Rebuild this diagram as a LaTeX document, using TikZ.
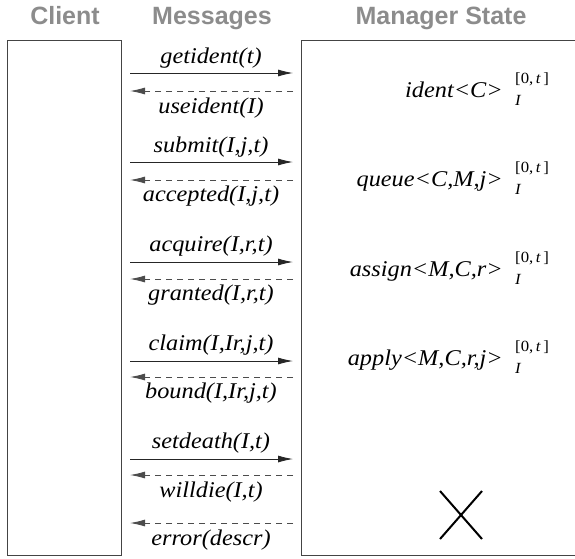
\documentclass[tikz,border=0pt]{standalone}
\usepackage{fontspec}
\setmainfont{Liberation Serif}[FakeStretch=1.08]
\newfontfamily\headfont{Liberation Sans}
\usetikzlibrary{arrows.meta}
\definecolor{headgray}{HTML}{8C8C8C}
\definecolor{framegray}{HTML}{444444}
\begin{document}
\begin{tikzpicture}[x=1pt,y=-1pt,
  heading/.style={font=\headfont\bfseries\fontsize{25}{25}\selectfont, text=headgray, anchor=base, inner sep=0pt},
  msg/.style={font=\itshape\fontsize{22.5}{22.5}\selectfont, anchor=center, inner sep=0pt},
  statelbl/.style={font=\itshape\fontsize{22.5}{22.5}\selectfont, anchor=base east, inner sep=0pt},
  scriptlbl/.style={font=\fontsize{15.5}{15.5}\selectfont, anchor=base west, inner sep=0pt},
  lane/.style={draw=framegray, line width=1pt},
  req/.style={-{Latex[length=15pt,width=7pt]}, line width=0.9pt, draw=black!85},
  rep/.style={-{Latex[length=15pt,width=7pt]}, line width=0.9pt, draw=black!70, dash pattern=on 6pt off 5pt},
  cross/.style={line width=2pt, draw=black}]
\useasboundingbox (0,0) rectangle (575,558);

% column headings
\node[heading] (hc) at (65,24) {Client};
\node[heading] (hm) at (212,24) {Messages};
\node[heading] (hs) at (441,24) {Manager State};

% lanes
\node[lane, minimum width=114pt, minimum height=515pt, anchor=north west, inner sep=0pt] (client) at (7,40) {};
\draw[lane] (590,40) -- (301,40) -- (301,555) -- (590,555);
\coordinate (mgr) at (301,40);

% message arrows: client side (cN) and manager side (mN)
\foreach \i/\y in {1/73,2/91,3/162,4/180,5/262,6/279,7/361,8/377,9/459,10/475,11/523}{
  \coordinate (c\i) at (130,\y);
  \coordinate (m\i) at (293,\y);
}
\draw[req] (c1) -- (m1);
\draw[rep] (m2) -- (c2);
\draw[req] (c3) -- (m3);
\draw[rep] (m4) -- (c4);
\draw[req] (c5) -- (m5);
\draw[rep] (m6) -- (c6);
\draw[req] (c7) -- (m7);
\draw[rep] (m8) -- (c8);
\draw[req] (c9) -- (m9);
\draw[rep] (m10) -- (c10);
\draw[rep] (m11) -- (c11);

% message labels
\node[msg] (l1) at (211,58) {getident(t)};
\node[msg] (l2) at (211,108) {useident(I)};
\node[msg] (l3) at (211,147) {submit(I,j,t)};
\node[msg] (l4) at (211,196) {accepted(I,j,t)};
\node[msg] (l5) at (211,246) {acquire(I,r,t)};
\node[msg] (l6) at (211,295) {granted(I,r,t)};
\node[msg] (l7) at (211,345) {claim(I,Ir,j,t)};
\node[msg] (l8) at (211,393) {bound(I,Ir,j,t)};
\node[msg] (l9) at (211,443) {setdeath(I,t)};
\node[msg] (l10) at (211,492) {willdie(I,t)};
\node[msg] (l11) at (211,540) {error(descr)};

% manager state entries with time interval and owner
\foreach \n/\y/\txt in {s1/97/{ident<C>}, s2/186/{queue<C,M,j>}, s3/276/{assign<M,C,r>}, s4/365/{apply<M,C,r,j>}}{
  \node[statelbl] (\n) at (503,\y) {\txt};
  \node[scriptlbl] (\n sup) at (515,\y-14) {[0,\,\textit{t}\,]};
  \node[scriptlbl] (\n sub) at (515,\y+8) {\textit{I}};
}

% terminated manager
\coordinate (xc) at (461,515);
\draw[cross] ([shift={(-21,-24)}]xc) -- ([shift={(21,24)}]xc);
\draw[cross] ([shift={(21,-24)}]xc) -- ([shift={(-21,24)}]xc);
\end{tikzpicture}
\end{document}
